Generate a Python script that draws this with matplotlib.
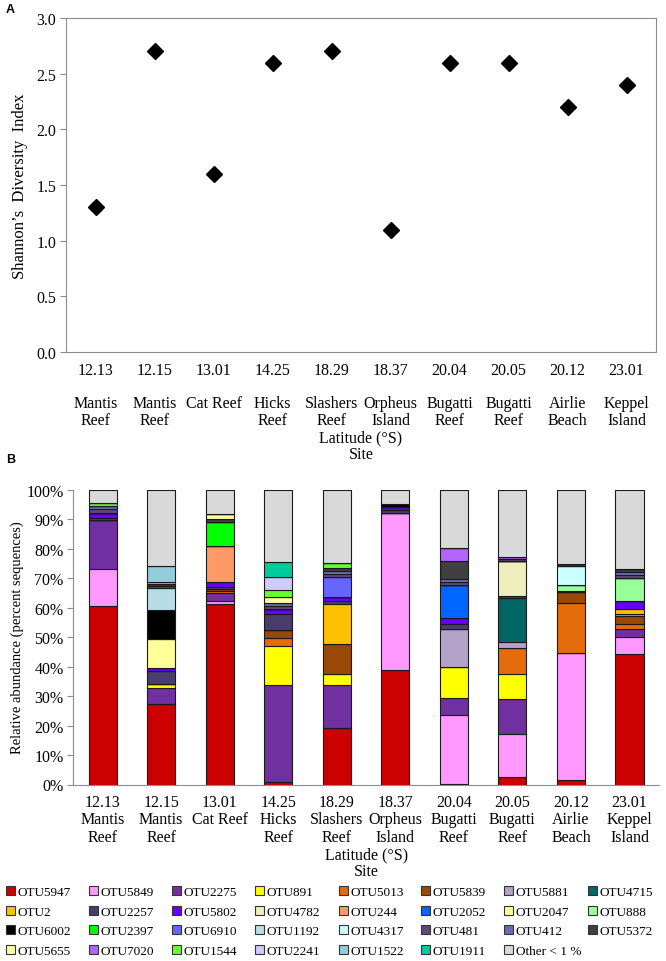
import matplotlib
matplotlib.use('Agg')
import matplotlib.pyplot as plt
from matplotlib.patches import Patch
import numpy as np

plt.rcParams['font.family'] = ['Liberation Serif', 'DejaVu Serif']

# ---------------- data ----------------
latitudes = ["12.13", "12.15", "13.01", "14.25", "18.29", "18.37", "20.04", "20.05", "20.12", "23.01"]
sites = ["Mantis\nReef", "Mantis\nReef", "Cat Reef", "Hicks\nReef", "Slashers\nReef",
         "Orpheus\nIsland", "Bugatti\nReef", "Bugatti\nReef", "Airlie\nBeach", "Keppel\nIsland"]
shannon = [1.3, 2.7, 1.6, 2.6, 2.7, 1.1, 2.6, 2.6, 2.2, 2.4]

otu5947 = [60.5, 27.3, 61.2, 0.8, 19.3, 38.7, 0.3, 2.6, 1.5, 44.2]
otu5849 = [12.6, 0, 1.0, 0, 0, 53.5, 23.2, 14.5, 43.2, 5.7]
otu2275 = [16.5, 5.3, 2.6, 33.1, 14.6, 0, 5.7, 11.9, 0, 2.7]
otu891 = [0, 1.4, 0, 13.0, 3.5, 0, 10.6, 8.4, 0, 0]
otu5013 = [0, 0, 0.8, 2.8, 0, 0, 0, 9.0, 17.0, 2.0]
otu5839 = [0, 0, 0.8, 2.6, 10.1, 0, 0, 0, 3.5, 2.6]
otu5881 = [0, 0, 0, 0, 0, 0, 13.1, 2.0, 0, 0.7]
otu4715 = [0, 0, 0, 0, 0, 0, 0, 14.9, 0, 0]
otu2 = [0, 0, 0, 0, 13.7, 0, 0, 0, 0, 1.6]
otu2257 = [0.9, 4.5, 0.6, 5.5, 1.2, 1.0, 1.4, 0.5, 0.6, 0]
otu5802 = [1.6, 1.1, 1.8, 1.7, 1.3, 0.9, 2.3, 0, 0, 2.7]
otu4782 = [0, 0, 0, 0, 0, 0, 0, 12.0, 0, 0]
otu244 = [0, 0, 12.2, 0, 0, 0, 0, 0, 0, 0]
otu2052 = [0, 0, 0, 0, 0, 0, 11.0, 0, 0, 0]
otu2047 = [0, 9.9, 0, 0, 0, 0, 0, 0, 0, 0]
otu888 = [0, 0, 0, 0, 0, 0, 0, 0, 1.8, 7.7]
otu6002 = [0, 9.7, 0, 0, 0, 1.2, 0, 0, 0, 0]
otu2397 = [0, 0, 8.1, 0, 0, 0, 0, 0, 0, 0]
otu6910 = [0, 0, 0, 0, 6.8, 0, 0, 0, 0, 0]
otu1192 = [0, 7.3, 0, 0, 0, 0, 0, 0, 0, 0]
otu4317 = [0, 0, 0, 0, 0, 0, 0, 0, 6.5, 0]
otu481 = [1.2, 0.8, 0, 0.9, 1.0, 0, 1.0, 0.6, 0, 1.1]
otu412 = [1.3, 0, 0, 1.0, 1.0, 0, 1.1, 0, 0, 1.0]
otu5372 = [0, 0.7, 0.8, 0, 1.0, 0, 6.1, 0, 0.8, 1.0]
otu5655 = [0, 0, 1.7, 2.3, 0, 0, 0, 0, 0, 0]
otu7020 = [0, 0, 0, 0, 0, 0, 4.3, 0.7, 0, 0]
otu1544 = [0.8, 0.7, 0, 2.3, 1.8, 0, 0, 0, 0, 0]
otu2241 = [0, 0, 0, 4.5, 0, 0, 0, 0, 0, 0]
otu1522 = [0, 5.5, 0, 0, 0, 0, 0, 0, 0, 0]
otu1911 = [0, 0, 0, 5.1, 0, 0, 0, 0, 0, 0]
other = [4.6, 25.8, 8.4, 24.4, 24.7, 4.7, 19.9, 22.9, 25.1, 27.0]

otu_names = ["OTU5947", "OTU5849", "OTU2275", "OTU891", "OTU5013", "OTU5839", "OTU5881", "OTU4715",
             "OTU2", "OTU2257", "OTU5802", "OTU4782", "OTU244", "OTU2052", "OTU2047", "OTU888",
             "OTU6002", "OTU2397", "OTU6910", "OTU1192", "OTU4317", "OTU481", "OTU412", "OTU5372",
             "OTU5655", "OTU7020", "OTU1544", "OTU2241", "OTU1522", "OTU1911", "Other < 1 %"]
otu_values = [otu5947, otu5849, otu2275, otu891, otu5013, otu5839, otu5881, otu4715,
              otu2, otu2257, otu5802, otu4782, otu244, otu2052, otu2047, otu888,
              otu6002, otu2397, otu6910, otu1192, otu4317, otu481, otu412, otu5372,
              otu5655, otu7020, otu1544, otu2241, otu1522, otu1911, other]
otu_colors = ["#CC0000", "#FF99FF", "#7030A0", "#FFFF00", "#E46C0A", "#984807", "#B3A2C7", "#006666",
              "#FFC000", "#483D6B", "#6600FF", "#EEEEBB", "#FF9966", "#0066FF", "#FFFF99", "#99FF99",
              "#000000", "#00FF00", "#6666FF", "#B7DEE8", "#CCFFFF", "#5F497A", "#6C6CB4", "#404040",
              "#FFFFA0", "#B266FF", "#66FF33", "#CCCCFF", "#93CDDD", "#00CC99", "#D9D9D9"]

# ---------------- figure ----------------
W, H = 666, 962
fig = plt.figure(figsize=(W / 100, H / 100), dpi=100)


def rect(l, t, r, b):
    return [l / W, 1 - b / H, (r - l) / W, (b - t) / H]


grey = "#8c8c8c"
fs = 11.5
x = np.arange(len(latitudes))

# Panel A
axA = fig.add_axes(rect(66, 19, 656, 353))
axA.plot(x, shannon, linestyle="none", marker="D", markersize=8.5, color="black")
axA.set_xlim(-0.5, 9.5)
axA.set_ylim(0, 3)
axA.set_yticks(np.arange(0, 3.01, 0.5))
axA.set_yticklabels([f"{v:.1f}" for v in np.arange(0, 3.01, 0.5)])
for sp in axA.spines.values():
    sp.set_color(grey)
axA.tick_params(axis="y", direction="out", length=4, color=grey, labelsize=fs, pad=3)
axA.tick_params(axis="x", length=0, labelsize=fs, pad=7)
axA.set_xticks(x)
axA.set_xticklabels([f"{la}\n\n{s}" for la, s in zip(latitudes, sites)], linespacing=1.05)
axA.set_xlabel("Latitude (°S)\nSite", fontsize=fs, labelpad=1, linespacing=1.1)
axA.set_ylabel("Shannon\u2019s  Diversity  Index", fontsize=12, labelpad=6)

# Panel B
axB = fig.add_axes(rect(73.4, 490.7, 658.8, 785.5))
bottom = np.zeros(len(latitudes))
for name, vals, col in zip(otu_names, otu_values, otu_colors):
    v = np.array(vals, dtype=float)
    axB.bar(x, v, bottom=bottom, width=0.48, color=col, edgecolor="#1a1a1a",
            linewidth=0.8, label=name)
    bottom += v
axB.set_xlim(-0.5, 9.5)
axB.set_ylim(0, 100)
axB.set_yticks(np.arange(0, 101, 10))
axB.set_yticklabels([f"{v}%" for v in range(0, 101, 10)])
axB.spines["top"].set_visible(False)
axB.spines["right"].set_visible(False)
axB.spines["left"].set_color(grey)
axB.spines["bottom"].set_color(grey)
axB.tick_params(axis="y", direction="out", length=4, color=grey, labelsize=fs, pad=3)
axB.tick_params(axis="x", length=0, labelsize=fs, pad=7)
axB.set_xticks(x)
axB.set_xticklabels([f"{la}\n{s}" for la, s in zip(latitudes, sites)], linespacing=1.1)
axB.set_xlabel("Latitude (°S)\nSite", fontsize=fs, labelpad=1, linespacing=1.1)
axB.set_ylabel("Relative abundance (percent sequences)", fontsize=10.5, labelpad=2)

# Legend: one column-legend per fixed x position (row-major order as in original)
handles = [Patch(facecolor=c, edgecolor="#333333", linewidth=0.8, label=n)
           for n, c in zip(otu_names, otu_colors)]
ncol = 8
col_x = [6, 89, 172, 255, 339, 421, 504, 588]
for c in range(ncol):
    idx = [r * ncol + c for r in range(4) if r * ncol + c < len(handles)]
    fig.legend([handles[i] for i in idx], [otu_names[i] for i in idx],
               loc="upper left", bbox_to_anchor=(col_x[c] / W, 1 - 887 / H), ncol=1,
               frameon=False, fontsize=9.5, handlelength=0.7, handleheight=0.7,
               handletextpad=0.2, labelspacing=0.56,
               borderaxespad=0, borderpad=0)

fig.text(6 / W, 1 - 10 / H, "A", fontfamily="Liberation Sans", fontweight="bold",
         fontsize=9, va="center", ha="left")
fig.text(6 / W, 1 - 460 / H, "B", fontfamily="Liberation Sans", fontweight="bold",
         fontsize=9, va="center", ha="left")

fig.savefig("out.png", dpi=100)
